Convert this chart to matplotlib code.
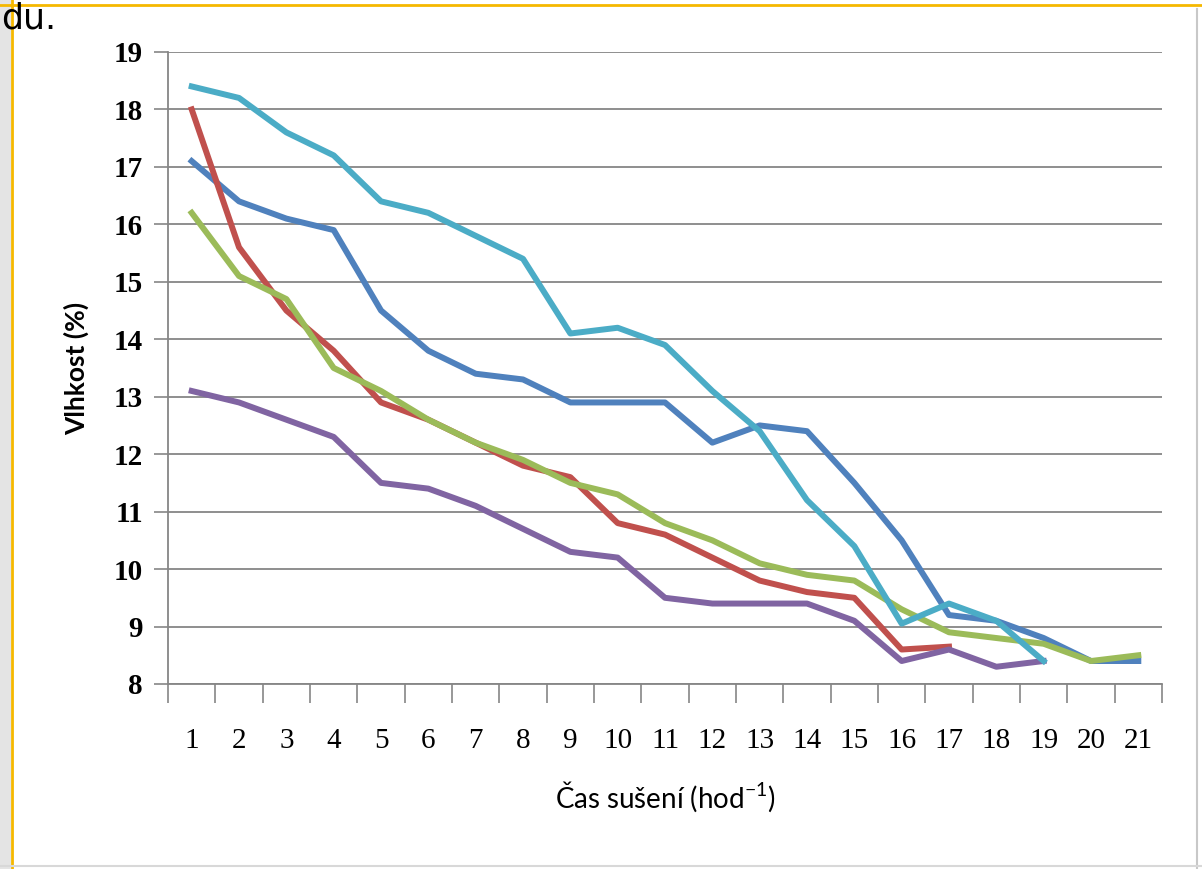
import matplotlib
matplotlib.use("Agg")
import matplotlib.pyplot as plt
from matplotlib.patches import Rectangle
from matplotlib.lines import Line2D

# hours of drying (categories)
hours = list(range(1, 22))

# moisture series (%)
blue = [17.1, 16.4, 16.1, 15.9, 14.5, 13.8, 13.4, 13.3, 12.9, 12.9, 12.9,
        12.2, 12.5, 12.4, 11.5, 10.5, 9.2, 9.1, 8.8, 8.4, 8.4]
red = [18.0, 15.6, 14.5, 13.8, 12.9, 12.6, 12.2, 11.8, 11.6, 10.8, 10.6,
       10.2, 9.8, 9.6, 9.5, 8.6, 8.65]
green = [16.2, 15.1, 14.7, 13.5, 13.1, 12.6, 12.2, 11.9, 11.5, 11.3, 10.8,
         10.5, 10.1, 9.9, 9.8, 9.3, 8.9, 8.8, 8.7, 8.4, 8.5]
purple = [13.1, 12.9, 12.6, 12.3, 11.5, 11.4, 11.1, 10.7, 10.3, 10.2, 9.5,
          9.4, 9.4, 9.4, 9.1, 8.4, 8.6, 8.3, 8.4]
cyan = [18.4, 18.2, 17.6, 17.2, 16.4, 16.2, 15.8, 15.4, 14.1, 14.2, 13.9,
        13.1, 12.4, 11.2, 10.4, 9.05, 9.4, 9.1, 8.4]

series = [
    (blue, "#4F81BD"),
    (red, "#C0504D"),
    (green, "#9BBB59"),
    (purple, "#8064A2"),
    (cyan, "#4BACC6"),
]

fig = plt.figure(figsize=(12.02, 8.69), dpi=100)
fig.patch.set_facecolor("white")

# screenshot frame bits
fig.patches.append(Rectangle((0, 0), 0.009, 1, transform=fig.transFigure,
                             facecolor="#e4e4e4", edgecolor="none", zorder=0))
fig.lines.append(Line2D([0.010, 0.010], [0, 1], transform=fig.transFigure,
                        color="#f5b800", lw=2))
fig.lines.append(Line2D([0, 1], [0.994, 0.994], transform=fig.transFigure,
                        color="#f5b800", lw=2))
fig.lines.append(Line2D([0.996, 0.996], [0, 0.99], transform=fig.transFigure,
                        color="#c8c8c8", lw=1.5))
fig.lines.append(Line2D([0, 1], [0.004, 0.004], transform=fig.transFigure,
                        color="#d8d8d8", lw=1.5))
fig.text(0.001, 0.998, "du.", fontsize=25, va="top", ha="left", color="black")

ax = fig.add_axes([0.1398, 0.2129, 0.9667 - 0.1398, 0.9402 - 0.2129])

for vals, col in series:
    ax.plot(hours[:len(vals)], vals, color=col, lw=4.3, solid_joinstyle="round")

ax.set_xlim(0.5, 21.5)
ax.set_ylim(8, 19)

ax.set_yticks(range(8, 20))
ax.yaxis.grid(True, color="#868686", lw=1.3)
ax.set_axisbelow(True)
for lab in ax.get_yticklabels():
    lab.set_fontfamily("Liberation Serif")
    lab.set_fontweight("bold")
    lab.set_fontsize(21)
ax.tick_params(axis="y", direction="out", length=10, color="#868686", width=1.2, pad=8)

# ticks at category boundaries, labels at centres
ax.set_xticks([h - 0.5 for h in hours] + [21.5])
ax.set_xticklabels([])
ax.set_xticks(hours, minor=True)
ax.set_xticklabels([str(h) for h in hours], minor=True,
                   fontfamily="Liberation Serif", fontsize=21)
ax.tick_params(axis="x", which="major", direction="out", length=14,
               color="#868686", width=1.2)
ax.tick_params(axis="x", which="minor", length=0, pad=32)

for s in ["top", "right"]:
    ax.spines[s].set_visible(False)
for s in ["left", "bottom"]:
    ax.spines[s].set_color("#868686")
    ax.spines[s].set_linewidth(1.3)

ax.set_ylabel("Vlhkost (%)", fontsize=19, fontweight="bold",
              fontfamily="Lato", labelpad=18)
ax.set_xlabel("Čas sušení (hod$^{\\mathregular{-1}}$)", fontsize=20,
              fontfamily="Lato", labelpad=18)

fig.savefig("out.png", dpi=100)
